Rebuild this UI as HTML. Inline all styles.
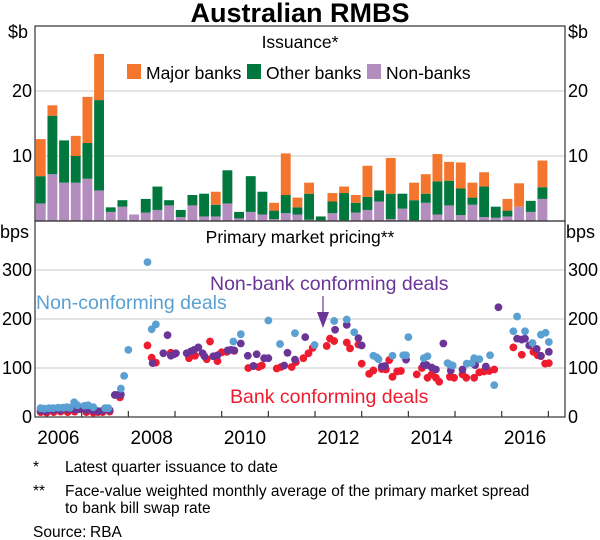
<!DOCTYPE html>
<html><head><meta charset="utf-8">
<style>
body{margin:0;background:#fff;}
svg{display:block;font-family:"Liberation Sans",Arial,sans-serif;}
</style></head>
<body>
<svg id="chart" width="600" height="540" viewBox="0 0 600 540" xmlns="http://www.w3.org/2000/svg">
<text x="300" y="22" text-anchor="middle" font-size="27" font-weight="bold" fill="#000">Australian RMBS</text>
<g id="grid"></g>
<g id="bars"></g>
<g id="dots"></g>
<rect x="35" y="26" width="530" height="195" fill="none" stroke="#333" stroke-width="1.2"/>
<rect x="35" y="221" width="530" height="196" fill="none" stroke="#333" stroke-width="1.2"/>
<g id="axes" font-size="18" fill="#000"></g>
<text x="300" y="48" text-anchor="middle" font-size="17.5">Issuance*</text>
<g font-size="17.5">
  <rect x="127" y="64" width="14" height="15" fill="#f4762e"/>
  <text x="146" y="79">Major banks</text>
  <rect x="247" y="64" width="14" height="15" fill="#00773d"/>
  <text x="266" y="79">Other banks</text>
  <rect x="367" y="64" width="14" height="15" fill="#b48dbf"/>
  <text x="386" y="79">Non-banks</text>
</g>
<text x="300" y="243" text-anchor="middle" font-size="17.5">Primary market pricing**</text>
<text x="36" y="309" font-size="19.5" fill="#5aa0d2">Non-conforming deals</text>
<text x="210" y="290" font-size="19.5" fill="#6a3596">Non-bank conforming deals</text>
<line x1="323" y1="296" x2="323" y2="320" stroke="#6a3596" stroke-width="1.2"/>
<polygon points="317,312 329,312 323,328" fill="#6a3596"/>
<text x="230" y="403" font-size="19.5" fill="#ee1c2e">Bank conforming deals</text>
<g font-size="15.5" fill="#000">
  <text x="33" y="472">*</text>
  <text x="65" y="472">Latest quarter issuance to date</text>
  <text x="33" y="496">**</text>
  <text x="65" y="496">Face-value weighted monthly average of the primary market spread</text>
  <text x="65" y="513">to bank bill swap rate</text>
  <text x="33" y="537">Source:</text>
  <text x="90" y="537">RBA</text>
</g>
</svg>
<script>
// ---- Issuance data (quarterly, 2006Q1..2016Q4), $b
const quarterStart = 2006;
const nonBanks = [2.7,7.2,5.9,5.9,6.5,4.7,1.4,2.2,1.0,1.3,1.7,2.4,0.6,2.4,0.7,0.7,2.7,0.4,1.4,1.0,0.3,1.2,1.0,0.2,0.1,1.2,0.1,1.3,1.7,3.0,0.3,1.9,0.1,2.8,1.0,2.4,0.9,2.5,0.6,0.5,0.7,2.2,1.4,3.4];
const otherBanks = [4.2,9.0,6.5,4.1,5.5,13.9,0.7,1.0,0,2.1,3.6,0.8,1.1,1.6,3.5,1.8,5.1,1.0,5.5,3.5,1.3,2.8,1.1,4.0,0.6,1.8,4.2,1.5,2.0,1.7,3.9,2.3,3.1,1.4,5.1,3.8,4.1,1.1,4.7,1.7,0.9,0,1.7,1.8];
const majorBanks = [5.7,1.6,0,3.1,7.1,7.1,0,0,0,0,0,0,0,0,0,2.0,0,0,0,0,1.2,6.4,1.5,1.7,0,1.3,1.0,1.2,4.8,0,5.5,0,2.7,3.0,4.2,2.9,4.0,2.3,2.2,0,1.8,3.6,0,4.1];
const topTicks = [10,20];
const bottomTicks = [0,100,200,300];
const yearLabels = [2006,2008,2010,2012,2014,2016];
// ---- Pricing data (bps)
const ncDates = [2006.12,2006.2,2006.3,2006.39,2006.5,2006.6,2006.68,2006.75,2006.84,2006.91,2007.06,2007.14,2007.25,2007.5,2007.57,2007.84,2007.91,2008.0,2008.41,2008.5,2008.59,2010.25,2010.41,2011.0,2011.25,2011.57,2011.99,2012.41,2012.68,2012.84,2013.25,2013.32,2013.36,2013.66,2013.89,2013.95,2014.0,2014.33,2014.41,2014.84,2014.89,2014.95,2015.25,2015.36,2015.41,2015.52,2015.75,2015.84,2016.25,2016.33,2016.5,2016.66,2016.84,2016.94,2017.01];
const ncValues = [18,17,18,18,19,19,20,19,30,24,23,24,20,18,18,58,84,137,316,179,189,154,169,197,149,171,147,196,199,173,125,122,118,125,126,126,163,120,124,110,107,105,109,110,120,118,126,65,175,205,175,151,168,172,153];
const nbDates = [2006.12,2006.25,2006.4,2006.55,2006.7,2006.85,2006.95,2007.1,2007.25,2007.35,2007.45,2007.6,2007.71,2007.78,2007.84,2008.52,2008.75,2008.84,2008.91,2008.98,2009.02,2009.25,2009.34,2009.41,2009.5,2009.59,2009.63,2009.82,2009.91,2010.13,2010.2,2010.27,2010.41,2010.56,2010.68,2010.75,2010.91,2011.0,2011.34,2011.41,2011.57,2011.79,2012.43,2012.68,2012.93,2013.0,2013.43,2013.5,2013.95,2014.33,2014.39,2014.5,2014.59,2014.75,2014.91,2015.16,2015.43,2015.66,2015.93,2016.33,2016.43,2016.5,2016.59,2016.75,2016.84,2017.01];
const nbValues = [13,12,14,14,15,15,16,14,13,12,13,14,45,45,46,110,130,167,125,128,130,130,134,137,142,130,124,124,126,136,137,136,150,125,104,128,120,120,105,131,117,163,178,188,161,146,103,104,117,106,106,101,97,150,95,97,106,103,224,160,158,160,146,139,125,133];
const bcDates = [2006.12,2006.25,2006.4,2006.55,2006.7,2006.85,2007.1,2007.25,2007.35,2007.45,2007.6,2007.82,2008.41,2008.5,2008.59,2008.91,2009.3,2009.43,2009.68,2009.75,2009.91,2010.0,2010.11,2010.27,2010.57,2010.68,2010.79,2010.86,2011.18,2011.27,2011.5,2011.59,2011.75,2011.86,2011.95,2012.25,2012.32,2012.41,2012.68,2012.75,2012.93,2013.0,2013.16,2013.25,2013.43,2013.52,2013.59,2013.66,2013.76,2013.84,2014.18,2014.29,2014.41,2014.5,2014.59,2014.66,2014.89,2014.98,2015.16,2015.24,2015.41,2015.52,2015.62,2015.73,2015.84,2016.25,2016.43,2016.68,2016.77,2016.84,2016.93,2017.01];
const bcValues = [10,9,10,11,10,11,10,9,10,10,11,40,146,121,111,131,120,125,118,154,114,132,133,135,100,104,102,105,99,102,102,112,120,130,141,145,160,155,152,140,148,109,88,95,98,97,116,82,93,94,87,100,80,87,80,72,82,80,87,80,80,91,93,94,97,142,127,133,126,124,109,110];

const NS='http://www.w3.org/2000/svg';
const X0=35, YEARW=46.67;
function xYear(y){return X0+(y-2006)*YEARW;}
function yTop(v){return 221-v*6.5;}
function yBot(v){return 417-v*0.49;}
function mk(tag,attrs,parent){const e=document.createElementNS(NS,tag);for(const k in attrs)e.setAttribute(k,attrs[k]);parent.appendChild(e);return e;}
const grid=document.getElementById('grid'),bars=document.getElementById('bars'),dots=document.getElementById('dots'),axes=document.getElementById('axes');

topTicks.forEach(t=>{
  const l=mk('line',{x1:35,x2:565,y1:yTop(t),y2:yTop(t),stroke:'#c8c8c8','stroke-width':1},grid);
  
  
  const a=mk('text',{x:32,y:yTop(t)+6,'text-anchor':'end'},axes);a.textContent=t;
  
  
  const b=mk('text',{x:568,y:yTop(t)+6},axes);b.textContent=t;
  
  
});
bottomTicks.forEach(t=>{
  if(t>0){const l=mk('line',{x1:35,x2:565,y1:yBot(t),y2:yBot(t),stroke:'#c8c8c8','stroke-width':1},grid);
  
  }
  const a=mk('text',{x:32,y:yBot(t)+6,'text-anchor':'end'},axes);a.textContent=t;
  
  
  const b=mk('text',{x:568,y:yBot(t)+6},axes);b.textContent=t;
  
  
});
[['$b',8,38,'left-unit-top'],['$b',568,38,'right-unit-top'],['bps',0,238,'left-unit-bottom'],['bps',566,238,'right-unit-bottom']].forEach(u=>{
  const t=mk('text',{x:u[1],y:u[2]},axes);t.textContent=u[0];
  
  
});
for(let y=2007;y<=2017;y++){
  const l=mk('line',{x1:xYear(y),x2:xYear(y),y1:417,y2:411,stroke:'#333','stroke-width':1.2},axes);
  
  
}
yearLabels.forEach(y=>{
  const t=mk('text',{x:xYear(y+0.5),y:444,'text-anchor':'middle','font-size':19},axes);t.textContent=y;
  
  
});

const QW=YEARW/4;
nonBanks.forEach((nb,i)=>{
  const x=xYear(quarterStart+i*0.25)+0.8, w=QW-1.8;
  const ob=otherBanks[i], mj=majorBanks[i];
  const segs=[[0,nb,'#b48dbf','non-banks'],[nb,nb+ob,'#00773d','other-banks'],[nb+ob,nb+ob+mj,'#f4762e','major-banks']];
  segs.forEach(s=>{
    if(s[1]-s[0]<=0)return;
    const r=mk('rect',{x:x,y:yTop(s[1]),width:w,height:yTop(s[0])-yTop(s[1]),fill:s[2]},bars);
    
    
  });
});

function plotSeries(dates,vals,color,name){
  dates.forEach((d,i)=>{
    const c=mk('circle',{cx:xYear(d),cy:yBot(vals[i]),r:3.9,fill:color},dots);
    
    
  });
}
plotSeries(bcDates,bcValues,'#ee1c2e','bank-conforming');
plotSeries(nbDates,nbValues,'#6a3596','non-bank-conforming');
plotSeries(ncDates,ncValues,'#5aa0d2','non-conforming');
</script>
</body></html>
